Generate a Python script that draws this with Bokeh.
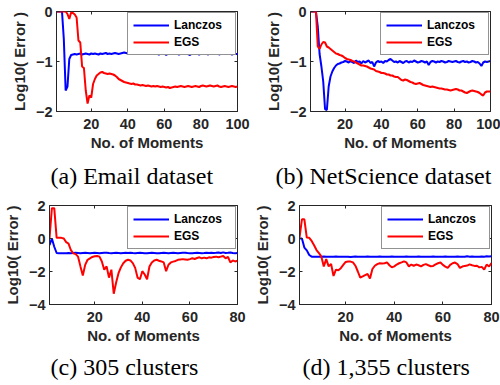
from bokeh.plotting import figure
from bokeh.layouts import column, row
from bokeh.models import (Range1d, FixedTicker, Legend, LegendItem, Title,
                          LinearAxis, CustomJSTickFormatter)
from bokeh.embed import file_html
from bokeh.resources import INLINE

# ---------------- data ----------------
moments_a = list(range(1, 101))
moments_b = list(range(1, 101))
moments_c = list(range(1, 81))
moments_d = list(range(1, 81))

a_lanczos = [
    0, 0, 0, 0, -0.55, -1.58, -1.50, -0.95, -0.87, -0.86,
    -0.85, -0.86, -0.85, -0.84, -0.86, -0.85, -0.84, -0.85, -0.86, -0.84,
    -0.85, -0.84, -0.85, -0.86, -0.84, -0.85, -0.84, -0.83, -0.85, -0.84,
    -0.85, -0.84, -0.83, -0.84, -0.85, -0.84, -0.83, -0.82, -0.83, -0.84,
    -0.84, -0.83, -0.85, -0.84, -0.83, -0.84, -0.85, -0.84, -0.83, -0.84,
    -0.85, -0.84, -0.83, -0.84, -0.85, -0.84, -0.86, -0.84, -0.85, -0.84,
    -0.87, -0.84, -0.83, -0.84, -0.85, -0.83, -0.84, -0.86, -0.84, -0.85,
    -0.83, -0.84, -0.85, -0.87, -0.84, -0.83, -0.85, -0.84, -0.86, -0.84,
    -0.83, -0.85, -0.84, -0.86, -0.83, -0.84, -0.85, -0.84, -0.83, -0.86,
    -0.84, -0.85, -0.83, -0.84, -0.85, -0.84, -0.86, -0.84, -0.85, -0.85]
a_egs = [
    0, 0, 0, 0, 0, 0, -0.05, -0.15, -0.02, -0.03,
    -0.06, -0.12, -0.58, -0.62, -1.10, -1.13, -1.58, -1.84, -1.68, -1.72,
    -1.45, -1.35, -1.28, -1.25, -1.22, -1.21, -1.23, -1.24, -1.25, -1.24,
    -1.25, -1.26, -1.28, -1.31, -1.35, -1.37, -1.39, -1.41, -1.42, -1.43,
    -1.44, -1.45, -1.44, -1.46, -1.46, -1.47, -1.48, -1.47, -1.48, -1.49,
    -1.48, -1.49, -1.50, -1.49, -1.50, -1.49, -1.50, -1.51, -1.50, -1.51,
    -1.52, -1.51, -1.53, -1.52, -1.51, -1.50, -1.51, -1.50, -1.49, -1.50,
    -1.51, -1.50, -1.49, -1.50, -1.51, -1.50, -1.49, -1.50, -1.51, -1.49,
    -1.48, -1.49, -1.50, -1.49, -1.48, -1.49, -1.50, -1.49, -1.48, -1.50,
    -1.51, -1.50, -1.49, -1.50, -1.51, -1.50, -1.49, -1.50, -1.51, -1.50]

b_lanczos = [
    0, 0, 0, 0, -0.30, -0.85, -1.10, -1.40, -1.95, -1.97,
    -1.50, -1.30, -1.20, -1.13, -1.08, -1.05, -1.04, -1.02, -1.01, -0.99,
    -1.00, -1.02, -0.99, -1.01, -1.03, -0.98, -1.01, -1.00, -1.04, -0.99,
    -1.02, -1.00, -0.98, -1.03, -1.01, -1.10, -1.02, -0.99, -1.01, -1.00,
    -1.03, -0.99, -1.00, -0.97, -0.95, -0.98, -1.01, -1.00, -1.02, -0.99,
    -1.01, -1.03, -1.00, -0.99, -1.02, -1.00, -1.01, -0.98, -1.00, -1.02,
    -1.01, -0.99, -1.00, -1.02, -1.00, -1.07, -1.01, -0.99, -1.00, -1.02,
    -1.00, -1.01, -0.99, -1.00, -1.02, -1.01, -0.99, -1.00, -1.01, -1.00,
    -0.99, -1.01, -1.02, -1.00, -0.99, -1.01, -1.00, -1.02, -1.01, -0.99,
    -1.00, -1.02, -1.01, -1.04, -1.09, -1.02, -1.00, -1.01, -1.00, -0.99]
b_egs = [
    0, 0, 0, 0, -0.70, -0.75, -0.66, -0.61, -0.62, -0.70,
    -0.72, -0.75, -0.78, -0.81, -0.84, -0.85, -0.87, -0.88, -0.90, -0.93,
    -0.95, -0.96, -0.97, -0.99, -1.00, -1.02, -1.04, -1.06, -1.08, -1.08,
    -1.09, -1.10, -1.12, -1.14, -1.15, -1.16, -1.19, -1.20, -1.21, -1.23,
    -1.23, -1.24, -1.26, -1.26, -1.28, -1.28, -1.30, -1.31, -1.31, -1.34,
    -1.37, -1.38, -1.36, -1.37, -1.39, -1.41, -1.42, -1.44, -1.45, -1.44,
    -1.43, -1.45, -1.47, -1.48, -1.49, -1.50, -1.51, -1.50, -1.51, -1.52,
    -1.53, -1.54, -1.54, -1.55, -1.56, -1.56, -1.57, -1.58, -1.57, -1.56,
    -1.55, -1.56, -1.58, -1.58, -1.60, -1.62, -1.63, -1.61, -1.59, -1.58,
    -1.59, -1.60, -1.61, -1.63, -1.66, -1.68, -1.62, -1.60, -1.60, -1.60]

c_lanczos = [
    -0.40, 0.00, -0.50, -0.88, -0.90, -0.89, -0.90, -0.89, -0.88, -0.89,
    -0.88, -0.87, -0.88, -0.89, -0.88, -0.87, -0.88, -0.89, -0.88, -0.87,
    -0.88, -0.89, -0.88, -0.87, -0.86, -0.88, -0.89, -0.88, -0.87, -0.88,
    -0.89, -0.88, -0.87, -0.88, -0.86, -0.88, -0.89, -0.88, -0.87, -0.88,
    -0.89, -0.90, -0.88, -0.87, -0.88, -0.89, -0.90, -0.88, -0.87, -0.88,
    -0.89, -0.88, -0.87, -0.88, -0.89, -0.88, -0.87, -0.86, -0.88, -0.89,
    -0.90, -0.88, -0.87, -0.88, -0.89, -0.88, -0.86, -0.88, -0.87, -0.88,
    -0.87, -0.85, -0.88, -0.84, -0.88, -0.87, -0.85, -0.88, -0.89, -0.88]
c_egs = [
    0.00, 1.84, 1.84, 0.04, 0.04, 0.04, 0.00, -0.22, -0.31, -0.71,
    -0.90, -0.95, -1.10, -1.69, -2.24, -1.60, -1.29, -1.20, -1.12, -1.08,
    -1.06, -1.10, -1.39, -1.89, -1.69, -2.37, -1.89, -3.35, -2.67, -2.10,
    -1.75, -1.50, -1.35, -1.29, -1.33, -1.49, -1.78, -2.37, -2.47, -1.98,
    -2.18, -2.47, -1.70, -1.45, -1.33, -1.29, -1.35, -1.39, -1.45, -1.98,
    -1.59, -1.45, -1.40, -1.36, -1.29, -1.27, -1.25, -1.27, -1.29, -1.25,
    -1.20, -1.24, -1.18, -1.14, -1.20, -1.16, -1.20, -1.14, -1.16, -1.12,
    -1.10, -1.14, -1.10, -1.06, -1.20, -1.12, -1.45, -1.33, -1.39, -1.35]

d_lanczos = [
    0.00, 0.00, -0.55, -0.72, -1.00, -1.10, -1.10, -1.11, -1.10, -1.10,
    -1.09, -1.10, -1.11, -1.10, -1.10, -1.09, -1.10, -1.10, -1.11, -1.10,
    -1.10, -1.12, -1.10, -1.09, -1.10, -1.11, -1.10, -1.10, -1.09, -1.10,
    -1.11, -1.10, -1.10, -1.09, -1.10, -1.10, -1.11, -1.10, -1.09, -1.10,
    -1.10, -1.11, -1.10, -1.10, -1.09, -1.10, -1.10, -1.11, -1.10, -1.09,
    -1.10, -1.10, -1.11, -1.10, -1.10, -1.09, -1.10, -1.11, -1.10, -1.10,
    -1.09, -1.10, -1.10, -1.11, -1.10, -1.09, -1.10, -1.10, -1.11, -1.08,
    -1.10, -1.09, -1.10, -1.11, -1.10, -1.09, -1.10, -1.08, -1.09, -1.08]
d_egs = [
    0.05, 1.16, 1.16, 0.06, 0.04, -0.15, -0.41, -0.70, -0.88, -1.10,
    -1.69, -1.25, -1.69, -1.55, -2.27, -1.89, -1.92, -1.80, -1.60, -1.42,
    -1.39, -1.40, -1.45, -1.65, -2.00, -2.37, -2.30, -2.22, -2.15, -2.43,
    -1.85, -1.65, -1.55, -1.50, -1.52, -1.50, -1.45, -1.62, -1.75, -1.69,
    -1.58, -1.50, -1.45, -1.39, -1.45, -1.69, -1.58, -1.65, -1.58, -1.62,
    -1.69, -1.60, -1.55, -1.62, -1.68, -1.66, -1.57, -1.50, -1.45, -1.60,
    -1.70, -1.78, -1.60, -1.50, -1.46, -1.55, -1.78, -1.70, -1.66, -1.64,
    -1.57, -1.62, -1.66, -1.65, -1.75, -1.72, -1.88, -1.58, -1.70, -1.49]

captions = ["(a) Email dataset", "(b) NetScience dataset",
            "(c) 305 clusters", "(d) 1,355 clusters"]
series_names = ["Lanczos", "EGS"]
x_ticks_100 = [20, 40, 60, 80, 100]
x_ticks_80 = [20, 40, 60, 80]
y_ticks_top = [-2, -1, 0]
y_ticks_bottom = [-4, -2, 0, 2]
x_label = "No. of Moments"
y_label = "Log10( Error )"

TXT = "#262626"


def box_axis(p, ticks, side):
    ax = LinearAxis(ticker=FixedTicker(ticks=ticks),
                    formatter=CustomJSTickFormatter(code="return ''"),
                    major_label_standoff=0, major_tick_in=3, major_tick_out=0,
                    minor_tick_in=0, minor_tick_out=0,
                    axis_line_color=None, major_tick_line_color=TXT)
    p.add_layout(ax, side)


def panel(x, lan, egs, x_end, y_lo, y_hi, xt, yt, caption,
          w, h, bl, br, bt, bb, cap_off, cap_standoff):
    p = figure(width=w, height=h, output_backend="svg", toolbar_location=None,
               x_range=Range1d(1, x_end), y_range=Range1d(y_lo, y_hi),
               min_border_left=bl, min_border_right=br,
               min_border_top=bt, min_border_bottom=bb,
               background_fill_color="white", border_fill_color="white")
    p.grid.visible = False
    p.outline_line_color = TXT
    p.outline_line_width = 1
    p.outline_line_alpha = 1
    r1 = p.line(x, lan, line_color="#0000ff", line_width=2)
    r2 = p.line(x, egs, line_color="#ff0000", line_width=2)
    for ax in (p.xaxis[0], p.yaxis[0]):
        ax.major_label_text_font = "Liberation Sans"
        ax.major_label_text_font_style = "bold"
        ax.major_label_text_font_size = "14.5px"
        ax.major_label_text_color = TXT
        ax.axis_label_text_font = "Liberation Sans"
        ax.axis_label_text_font_style = "bold"
        ax.axis_label_text_font_size = "15px"
        ax.axis_label_text_color = TXT
        ax.major_tick_in = 3
        ax.major_tick_out = 0
        ax.minor_tick_in = 0
        ax.minor_tick_out = 0
        ax.axis_line_color = TXT
        ax.major_tick_line_color = TXT
    p.xaxis[0].ticker = FixedTicker(ticks=xt)
    p.yaxis[0].ticker = FixedTicker(ticks=yt)
    p.xaxis[0].axis_label = x_label
    p.yaxis[0].axis_label = y_label
    p.xaxis[0].major_label_standoff = 7
    p.xaxis[0].axis_label_standoff = 2
    p.yaxis[0].major_label_standoff = 4
    p.yaxis[0].axis_label_standoff = 5
    box_axis(p, xt, "above")
    box_axis(p, yt, "right")
    legend = Legend(
        items=[LegendItem(label=series_names[0], renderers=[r1]),
               LegendItem(label=series_names[1], renderers=[r2])],
        location="top_right", margin=1, padding=5, spacing=3,
        glyph_width=36, glyph_height=12, label_height=12, label_width=56,
        label_standoff=5, label_text_font="Liberation Sans",
        label_text_font_style="bold", label_text_font_size="12px",
        label_text_color="black", border_line_color=TXT,
        border_line_width=1, background_fill_alpha=1)
    p.add_layout(legend)
    p.add_layout(Title(text=caption, align="left", offset=cap_off,
                       text_font="Liberation Serif", text_font_style="normal",
                       text_font_size="24px", text_color="black",
                       standoff=cap_standoff), "below")
    return p


pa = panel(moments_a, a_lanczos, a_egs, 100, -2, 0, x_ticks_100, y_ticks_top,
           captions[0], 250, 196, 56, 13, 11, 85, -6, 15)
pb = panel(moments_b, b_lanczos, b_egs, 100, -2, 0, x_ticks_100, y_ticks_top,
           captions[1], 250, 196, 60, 10, 11, 85, -35, 15)
pc = panel(moments_c, c_lanczos, c_egs, 80, -4, 2, x_ticks_80, y_ticks_bottom,
           captions[2], 250, 189, 47, 13, 9, 80, 1, 11)
pd = panel(moments_d, d_lanczos, d_egs, 80, -4, 2, x_ticks_80, y_ticks_bottom,
           captions[3], 250, 189, 49, 9, 9, 80, 3, 11)

layout = column(row(pa, pb), row(pc, pd))
open("out.html", "w").write(file_html(layout, INLINE))
